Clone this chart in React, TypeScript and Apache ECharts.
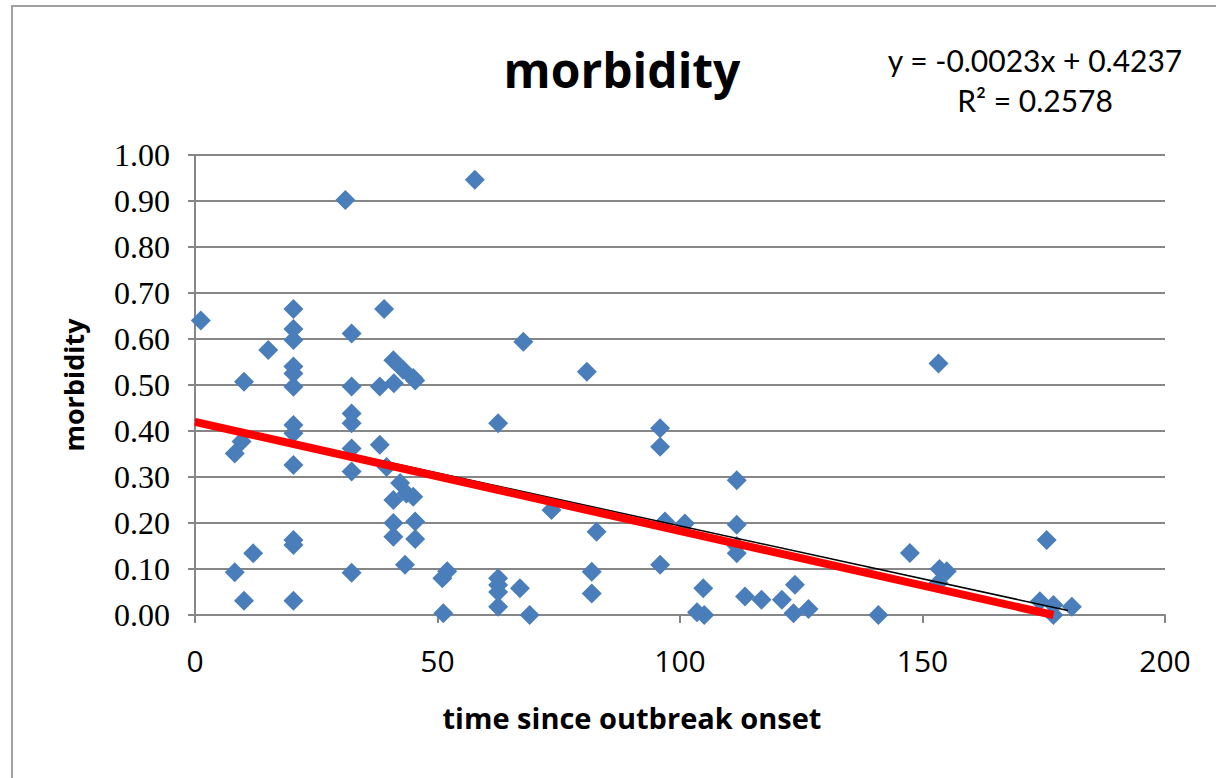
import React, { useEffect, useRef } from "react";
import * as echarts from "echarts";

const timeSinceOnset = [
  1.2, 8.2, 10.1, 10.1, 8.2, 9.6, 12, 15.1,
  20.3, 20.3, 20.3, 20.3, 20.3, 20.3, 20.3, 20.3, 20.3, 20.3, 20.3, 20.3,
  31, 32.3, 32.3, 32.3, 32.3, 32.3, 32.3, 32.3,
  39, 38.1, 38.1, 39.5, 40.9, 41, 42.9, 45, 45.4, 42.3, 43.6, 45, 40.9, 40.9, 45.4, 40.9, 45.4, 43.3,
  51.2, 51, 52, 57.7, 62.5, 62.5, 62.5, 62.5, 62.5, 67, 67.7, 69, 73.5,
  80.8, 81.8, 81.8, 82.8, 95.9, 95.9, 95.9, 96.9, 101, 104.8, 103.5, 105,
  111.7, 111.7, 111.7, 111.7, 113.4, 116.8, 121, 123.7, 123.4, 126.5,
  140.9, 147.4, 153.3, 153.5, 155, 153.3, 175.6, 174.2, 177, 180.8, 177,
];

const morbidityValues = [
  0.64, 0.093, 0.031, 0.507, 0.351, 0.377, 0.134, 0.576,
  0.665, 0.622, 0.598, 0.54, 0.525, 0.496, 0.413, 0.395, 0.326, 0.163, 0.152, 0.031,
  0.902, 0.612, 0.497, 0.438, 0.417, 0.362, 0.312, 0.092,
  0.665, 0.497, 0.37, 0.322, 0.554, 0.504, 0.533, 0.515, 0.51, 0.287, 0.264, 0.257, 0.25, 0.2, 0.203, 0.17, 0.165, 0.109,
  0.004, 0.08, 0.095, 0.946, 0.417, 0.08, 0.065, 0.05, 0.018, 0.058, 0.594, 0.0, 0.228,
  0.529, 0.094, 0.047, 0.181, 0.406, 0.366, 0.109, 0.203, 0.199, 0.058, 0.006, 0.0,
  0.293, 0.196, 0.15, 0.134, 0.04, 0.033, 0.033, 0.066, 0.004, 0.013,
  0.0, 0.135, 0.547, 0.1, 0.095, 0.07, 0.163, 0.03, 0.022, 0.018, 0.0,
];

const trendX = [0, 180];
const trendY = [0.4237, 0.0097];
const redLineX = [0, 177];
const redLineY = [0.42, 0.0];

const titleText = "morbidity";
const xAxisName = "time since outbreak onset";
const yAxisName = "morbidity";
const equationText = "y = -0.0023x + 0.4237";
const r2Text = "R² = 0.2578";

export default function App() {
  const ref = useRef<HTMLDivElement>(null);
  useEffect(() => {
    if (!ref.current) return;
    const chart = echarts.init(ref.current, null, { renderer: "svg" });
    const points = timeSinceOnset.map((x, i) => [x, morbidityValues[i]]);
    const trend = trendX.map((x, i) => [x, trendY[i]]);
    const red = redLineX.map((x, i) => [x, redLineY[i]]);
    chart.setOption({
      animation: false,
      backgroundColor: "#ffffff",
      title: {
        text: titleText,
        left: 617,
        top: 40,
        textAlign: "center",
        textStyle: { fontFamily: "Open Sans", fontWeight: "bold", fontSize: 48, color: "#000" },
      },
      grid: { left: 195, right: 51, top: 155, bottom: 163 },
      xAxis: {
        type: "value",
        min: 0,
        max: 200,
        interval: 50,
        axisLine: { show: true, onZero: false, lineStyle: { color: "#868686", width: 2 } },
        axisTick: { show: true, length: 8, inside: false, lineStyle: { color: "#868686", width: 2 } },
        axisLabel: { margin: 30, fontFamily: "Open Sans", fontSize: 30, color: "#000" },
        splitLine: { show: false },
      },
      yAxis: {
        type: "value",
        min: 0,
        max: 1,
        interval: 0.1,
        name: yAxisName,
        nameLocation: "middle",
        nameGap: 108,
        nameRotate: 90,
        nameTextStyle: { fontFamily: "Open Sans", fontWeight: "bold", fontSize: 27, color: "#000" },
        axisLine: { show: true, lineStyle: { color: "#868686", width: 2 } },
        axisTick: { show: true, length: 7, inside: false, lineStyle: { color: "#868686", width: 2 } },
        axisLabel: {
          margin: 25,
          fontFamily: "Liberation Serif",
          fontSize: 32,
          color: "#000",
          formatter: (v: number) => v.toFixed(2),
        },
        splitLine: { show: true, lineStyle: { color: "#868686", width: 2 } },
      },
      graphic: [
        {
          type: "rect",
          shape: { x: 12, y: 6, width: 1230, height: 800 },
          style: { fill: "none", stroke: "#a0a0a0", lineWidth: 2 },
          silent: true,
          z: -10,
        },
        {
          type: "text",
          x: 632,
          y: 717,
          style: {
            text: xAxisName,
            font: "bold 29px 'Open Sans'",
            fill: "#000",
            textAlign: "center",
            textVerticalAlign: "middle",
          },
        },
        {
          type: "text",
          x: 1035,
          y: 60,
          style: { text: equationText, font: "30px Lato", fill: "#000", textAlign: "center", textVerticalAlign: "middle" },
        },
        {
          type: "text",
          x: 1035,
          y: 100,
          style: { text: r2Text, font: "30px Lato", fill: "#000", textAlign: "center", textVerticalAlign: "middle" },
        },
      ],
      series: [
        {
          type: "scatter",
          data: points,
          symbol: "diamond",
          symbolSize: 20,
          itemStyle: { color: "#4a7ebb", opacity: 1 },
          z: 2,
        },
        {
          type: "line",
          data: trend,
          showSymbol: false,
          lineStyle: { color: "#000", width: 1.5 },
          z: 3,
        },
        {
          type: "line",
          data: red,
          showSymbol: false,
          lineStyle: { color: "#ff0000", width: 8 },
          z: 4,
        },
      ],
    });
    return () => chart.dispose();
  }, []);
  return (
    <div
      ref={ref}
      style={{ position: "fixed", left: 0, top: 0, width: 1216, height: 778 }}
    />
  );
}
